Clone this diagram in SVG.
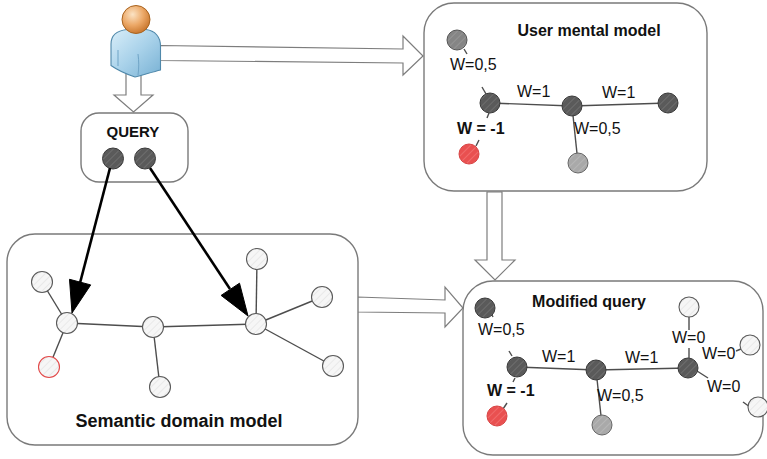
<svg xmlns="http://www.w3.org/2000/svg" width="767" height="459" viewBox="0 0 767 459">
  <defs>
    <pattern id="hatch-dark" patternUnits="userSpaceOnUse" width="5" height="5" patternTransform="rotate(45)">
      <rect width="5" height="5" fill="#5a5a5a"/>
      <line x1="0" y1="0" x2="0" y2="5" stroke="#6e6e6e" stroke-width="2"/>
    </pattern>
    <pattern id="hatch-mid" patternUnits="userSpaceOnUse" width="5" height="5" patternTransform="rotate(45)">
      <rect width="5" height="5" fill="#858585"/>
      <line x1="0" y1="0" x2="0" y2="5" stroke="#959595" stroke-width="2"/>
    </pattern>
    <pattern id="hatch-light" patternUnits="userSpaceOnUse" width="5" height="5" patternTransform="rotate(45)">
      <rect width="5" height="5" fill="#a9a9a9"/>
      <line x1="0" y1="0" x2="0" y2="5" stroke="#b6b6b6" stroke-width="2"/>
    </pattern>
    <pattern id="hatch-red" patternUnits="userSpaceOnUse" width="5" height="5" patternTransform="rotate(45)">
      <rect width="5" height="5" fill="#e95050"/>
      <line x1="0" y1="0" x2="0" y2="5" stroke="#f06a6a" stroke-width="2"/>
    </pattern>
    <pattern id="hatch-white" patternUnits="userSpaceOnUse" width="5" height="5" patternTransform="rotate(45)">
      <rect width="5" height="5" fill="#f6f6f6"/>
      <line x1="0" y1="0" x2="0" y2="5" stroke="#e9e9e9" stroke-width="2"/>
    </pattern>
    <radialGradient id="head-grad" cx="0.38" cy="0.32" r="0.7">
      <stop offset="0" stop-color="#fbe3c4"/>
      <stop offset="0.55" stop-color="#eca867"/>
      <stop offset="1" stop-color="#c9772e"/>
    </radialGradient>
    <linearGradient id="body-grad" x1="0" y1="0" x2="1" y2="1">
      <stop offset="0" stop-color="#d9eef9"/>
      <stop offset="0.5" stop-color="#a9d2ea"/>
      <stop offset="1" stop-color="#78b1d4"/>
    </linearGradient>
    <style>
      .box { fill: #ffffff; stroke: #7a7a7a; stroke-width: 1.4; }
      .block { fill: #ffffff; stroke: #7d7d7d; stroke-width: 1.2; stroke-linejoin: miter; }
      .edge { stroke: #4d4d4d; stroke-width: 1.4; fill: none; }
      .title { font-family: "Liberation Sans", Arial, sans-serif; font-weight: bold; fill: #111; }
      .w { font-family: "Liberation Sans", Arial, sans-serif; font-size: 16px; fill: #111; }
      .wb { font-family: "Liberation Sans", Arial, sans-serif; font-size: 16px; font-weight: bold; fill: #111; }
      .n-dark { fill: url(#hatch-dark); stroke: #3a3a3a; stroke-width: 1; }
      .n-mid { fill: url(#hatch-mid); stroke: #555; stroke-width: 1; }
      .n-light { fill: url(#hatch-light); stroke: #666; stroke-width: 1; }
      .n-red { fill: url(#hatch-red); stroke: #d84545; stroke-width: 1; }
      .n-white { fill: url(#hatch-white); stroke: #5a5a5a; stroke-width: 1.1; }
      .n-white-red { fill: url(#hatch-white); stroke: #e24a4a; stroke-width: 1.1; }
      .ptr { stroke: #000; stroke-width: 2.6; fill: none; }
      .ptr-head { fill: #000; stroke: #000; stroke-width: 1; stroke-linejoin: miter; }
    </style>
  </defs>

  <rect width="767" height="459" fill="#ffffff"/>

  <!-- hollow block arrows between panels -->
  <g id="connectors">
    <polygon class="block" points="126,70 141,70 141,95 153,95 133.5,112 114,95 126,95"/>
    <polygon class="block" points="160,45.5 403,49 403,36 423,56 403,75 403,63 160,60.5"/>
    <polygon class="block" points="487,192 502,192 502,260 515,260 495,280 475,260 487,260"/>
    <polygon class="block" points="357,297 445,300 445,287 463,308 445,327 445,313 357,312"/>
  </g>

  <!-- user -->
  <g id="user">
    <path d="M 111 44 C 111 35, 118 30.5, 127 29.5 L 146 29.5 C 155 30.5, 160.5 37, 160.5 46 L 160.5 70 C 152 72, 142 75.5, 135 77 C 126 74, 116 69, 111 65.5 Z" fill="url(#body-grad)" stroke="#4f88aa" stroke-width="1.1"/>
    <path d="M 118 50 L 118 66" stroke="#6fa4c6" stroke-width="1" fill="none"/>
    <path d="M 138 54 C 139 62, 139 68, 138 75" stroke="#6fa4c6" stroke-width="1" fill="none"/>
    <circle cx="136" cy="19.5" r="14" fill="url(#head-grad)" stroke="#a8631f" stroke-width="1"/>
  </g>

  <!-- query panel -->
  <g id="query">
    <rect class="box" x="81" y="113" width="107" height="69" rx="18"/>
    <text class="title" x="133" y="137" font-size="15" text-anchor="middle">QUERY</text>
    <circle class="n-dark" cx="113" cy="158.5" r="10.5"/>
    <circle class="n-dark" cx="145" cy="158.5" r="10.5"/>
  </g>

  <!-- semantic domain model panel -->
  <g id="semantic-domain-model">
    <rect class="box" x="7" y="234" width="351" height="211" rx="28"/>
    <g>
      <line class="edge" x1="42" y1="282" x2="67" y2="323"/>
      <line class="edge" x1="67" y1="323" x2="49" y2="367"/>
      <line class="edge" x1="67" y1="323" x2="153" y2="327"/>
      <line class="edge" x1="153" y1="327" x2="160" y2="387"/>
      <line class="edge" x1="153" y1="327" x2="256" y2="324"/>
      <line class="edge" x1="256" y1="324" x2="257" y2="259"/>
      <line class="edge" x1="256" y1="324" x2="322" y2="297"/>
      <line class="edge" x1="256" y1="324" x2="333" y2="366"/>
    </g>
    <circle class="n-white" cx="42" cy="282" r="10.5"/>
    <circle class="n-white" cx="67" cy="323" r="10.5"/>
    <circle class="n-white-red" cx="49" cy="367" r="10.5"/>
    <circle class="n-white" cx="153" cy="327" r="10.5"/>
    <circle class="n-white" cx="160" cy="387" r="10.5"/>
    <circle class="n-white" cx="256" cy="324" r="10.5"/>
    <circle class="n-white" cx="257" cy="259" r="10.5"/>
    <circle class="n-white" cx="322" cy="297" r="10.5"/>
    <circle class="n-white" cx="333" cy="366" r="10.5"/>
    <text class="title" x="179" y="427" font-size="18" text-anchor="middle">Semantic domain model</text>
  </g>

  <!-- query terms pointing into the domain model -->
  <g id="query-links">
    <line class="ptr" x1="110" y1="168" x2="80" y2="283"/>
    <polygon class="ptr-head" points="72,313 69.5,279.3 90.7,284.9"/>
    <line class="ptr" x1="150" y1="168" x2="230" y2="289"/>
    <polygon class="ptr-head" points="248,316 239.5,283.2 221.1,295.4"/>
  </g>

  <!-- user mental model panel -->
  <g id="user-mental-model">
    <rect class="box" x="424" y="3" width="283" height="188" rx="30"/>
    <text class="title" x="589" y="36" font-size="16" text-anchor="middle">User mental model</text>
    <line class="edge" x1="464" y1="49" x2="467" y2="54"/>
    <line class="edge" x1="482" y1="87" x2="486" y2="94"/>
    <line class="edge" x1="490" y1="103" x2="572" y2="106"/>
    <line class="edge" x1="572" y1="106" x2="668" y2="103"/>
    <line class="edge" x1="489" y1="113" x2="487" y2="118"/>
    <line class="edge" x1="479" y1="140" x2="476" y2="146"/>
    <line class="edge" x1="572" y1="106" x2="578" y2="163"/>
    <circle class="n-mid" cx="457" cy="40" r="10"/>
    <circle class="n-dark" cx="490" cy="103" r="10"/>
    <circle class="n-dark" cx="572" cy="106" r="10"/>
    <circle class="n-dark" cx="668" cy="103" r="10"/>
    <circle class="n-red" cx="469" cy="154" r="10"/>
    <circle class="n-light" cx="578" cy="163" r="10"/>
    <text class="w" x="450" y="70">W=0,5</text>
    <text class="w" x="517" y="97">W=1</text>
    <text class="w" x="602" y="98">W=1</text>
    <text class="wb" x="457" y="134">W = -1</text>
    <text class="w" x="574" y="134">W=0,5</text>
  </g>

  <!-- modified query panel -->
  <g id="modified-query">
    <rect class="box" x="463" y="281" width="300" height="174" rx="30"/>
    <text class="title" x="589" y="307" font-size="16" text-anchor="middle">Modified query</text>
    <line class="edge" x1="491" y1="313" x2="493" y2="317"/>
    <line class="edge" x1="509" y1="351" x2="512" y2="356"/>
    <line class="edge" x1="517" y1="367" x2="596" y2="370"/>
    <line class="edge" x1="596" y1="370" x2="688" y2="368"/>
    <line class="edge" x1="515" y1="378" x2="513" y2="382"/>
    <line class="edge" x1="507" y1="403" x2="503" y2="409"/>
    <line class="edge" x1="596" y1="370" x2="602" y2="425"/>
    <line class="edge" x1="689" y1="317" x2="689" y2="330"/>
    <line class="edge" x1="689" y1="348" x2="689" y2="358"/>
    <line class="edge" x1="736" y1="351" x2="741" y2="349"/>
    <line class="edge" x1="697" y1="371" x2="708" y2="378"/>
    <line class="edge" x1="743" y1="402" x2="750" y2="407"/>
    <circle class="n-dark" cx="485" cy="308" r="10"/>
    <circle class="n-dark" cx="517" cy="367" r="10"/>
    <circle class="n-red" cx="497" cy="416" r="10"/>
    <circle class="n-dark" cx="596" cy="370" r="10"/>
    <circle class="n-dark" cx="688" cy="368" r="10"/>
    <circle class="n-light" cx="602" cy="425" r="10"/>
    <circle class="n-white" cx="689" cy="307" r="10"/>
    <circle class="n-white" cx="750" cy="345" r="10"/>
    <circle class="n-white" cx="758" cy="407" r="10"/>
    <text class="w" x="478" y="335">W=0,5</text>
    <text class="w" x="542" y="362">W=1</text>
    <text class="w" x="625" y="363">W=1</text>
    <text class="wb" x="487" y="396">W = -1</text>
    <text class="w" x="597" y="401">W=0,5</text>
    <text class="w" x="672" y="343">W=0</text>
    <text class="w" x="702" y="359">W=0</text>
    <text class="w" x="707" y="392">W=0</text>
  </g>
</svg>
